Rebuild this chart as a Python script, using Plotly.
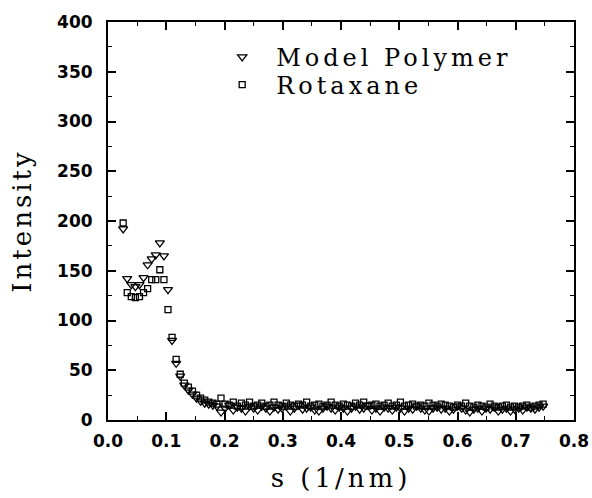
import plotly.graph_objects as go

# scattering vector s (1/nm)
s = [0.026, 0.033, 0.040, 0.047, 0.054, 0.061, 0.068, 0.075, 0.082, 0.089,
     0.096, 0.103, 0.110, 0.117, 0.124, 0.131, 0.138, 0.145, 0.152, 0.159,
     0.166, 0.173, 0.180, 0.187, 0.194, 0.201, 0.208, 0.215, 0.222, 0.229,
     0.236, 0.243, 0.250, 0.257, 0.264, 0.271, 0.278, 0.285, 0.292, 0.299,
     0.306, 0.313, 0.320, 0.327, 0.334, 0.341, 0.348, 0.355, 0.362, 0.369,
     0.376, 0.383, 0.390, 0.397, 0.404, 0.411, 0.418, 0.425, 0.432, 0.439,
     0.446, 0.453, 0.460, 0.467, 0.474, 0.481, 0.488, 0.495, 0.502, 0.509,
     0.516, 0.523, 0.530, 0.537, 0.544, 0.551, 0.558, 0.565, 0.572, 0.579,
     0.586, 0.593, 0.600, 0.607, 0.614, 0.621, 0.628, 0.635, 0.642, 0.649,
     0.656, 0.663, 0.670, 0.677, 0.684, 0.691, 0.698, 0.705, 0.712, 0.719,
     0.726, 0.733, 0.740, 0.747]

model_polymer = [192, 142, 136, 134, 136, 143, 156, 162, 166, 178,
                 165, 131, 80, 57, 44, 35, 30, 26, 22, 19,
                 17, 16, 15, 14, 8,
                 12, 15, 10, 13, 12, 9, 14, 12, 10, 14,
                 12, 9, 13, 11, 12, 14, 9, 12, 15, 11,
                 12, 13, 10, 9, 12, 14, 12, 10, 13, 12,
                 9, 12, 14, 11, 12, 15, 10, 12, 9, 13,
                 12, 10, 13, 12, 9, 12, 11, 14, 12, 10,
                 9, 12, 13, 11, 12, 9, 11, 14, 12, 10,
                 8, 11, 12, 9, 12, 11, 13, 9, 11, 12,
                 9, 11, 12, 10, 13, 12, 11, 13, 14]

rotaxane = [198, 128, 124, 123, 124, 128, 132, 141, 141, 151,
            141, 111, 83, 61, 46, 37, 33, 29, 25, 22,
            20, 18, 17, 16, 22,
            16, 15, 18, 14, 17, 15, 18, 14, 15, 17,
            14, 15, 18, 15, 14, 17, 15, 14, 16, 15,
            18, 14, 15, 16, 14, 15, 18, 15, 14, 16,
            15, 14, 17, 15, 18, 14, 15, 16, 14, 15,
            17, 14, 15, 18, 14, 15, 16, 14, 15, 14,
            17, 15, 14, 16, 15, 14, 13, 15, 14, 17,
            14, 13, 15, 14, 13, 16, 14, 13, 14, 15,
            13, 14, 13, 14, 15, 13, 14, 15, 16]

x_tickvals = [0.0, 0.1, 0.2, 0.3, 0.4, 0.5, 0.6, 0.7, 0.8]
x_ticktext = ["0.0", "0.1", "0.2", "0.3", "0.4", "0.5", "0.6", "0.7", "0.8"]
y_tickvals = [0, 50, 100, 150, 200, 250, 300, 350, 400]
y_ticktext = ["0", "50", "100", "150", "200", "250", "300", "350", "400"]

series_names = ["Model Polymer", "Rotaxane"]
x_title = "s (1/nm)"
y_title = "Intensity"

SERIF = "DejaVu Serif"
TICKFONT = dict(family="DejaVu Sans", size=17, color="black", weight="bold")


def spaced(text, ls):
    return f'<span style="letter-spacing:{ls}px">{text}</span>'


fig = go.Figure()
fig.add_trace(go.Scatter(
    x=s, y=model_polymer, mode="markers", name=spaced(series_names[0], 4),
    legend="legend",
    marker=dict(symbol="triangle-down-open", size=8, color="black",
                line=dict(width=1.3, color="black"))))
fig.add_trace(go.Scatter(
    x=s, y=rotaxane, mode="markers", name=spaced(series_names[1], 4),
    legend="legend2",
    marker=dict(symbol="square-open", size=6, color="black",
                line=dict(width=1.3, color="black"))))

axis_common = dict(
    showgrid=False, zeroline=False, showline=True, linewidth=2, linecolor="black",
    mirror="ticks", ticks="inside", ticklen=8, tickwidth=1.5, tickcolor="black",
    tickfont=TICKFONT,
)

fig.update_xaxes(
    range=[0, 0.8], tickmode="array", tickvals=x_tickvals, ticktext=x_ticktext,
    minor=dict(ticks="inside", ticklen=4, tickwidth=1.2, dtick=0.05, tick0=0, tickcolor="black"),
    ticklabelstandoff=5,
    title=dict(text=spaced(x_title, 4), font=dict(family=SERIF, size=26, color="black"), standoff=18),
    **axis_common)
fig.update_yaxes(
    range=[0, 400], tickmode="array", tickvals=y_tickvals, ticktext=y_ticktext,
    minor=dict(ticks="inside", ticklen=4, tickwidth=1.2, dtick=25, tick0=0, tickcolor="black"),
    ticklabelstandoff=10,
    title=dict(text=spaced(y_title, 3), font=dict(family=SERIF, size=26, color="black"), standoff=18),
    **axis_common)

legend_common = dict(xanchor="left", yanchor="top",
                     font=dict(family=SERIF, size=24, color="black"),
                     bgcolor="rgba(0,0,0,0)", borderwidth=0, itemwidth=58)

fig.update_layout(
    width=592, height=498,
    margin=dict(l=108, r=18, t=22, b=78, autoexpand=False),
    paper_bgcolor="white", plot_bgcolor="white",
    showlegend=True,
    legend=dict(x=0.215, y=0.968, **legend_common),
    legend2=dict(x=0.215, y=0.898, **legend_common),
)

fig.write_html("out.html")
